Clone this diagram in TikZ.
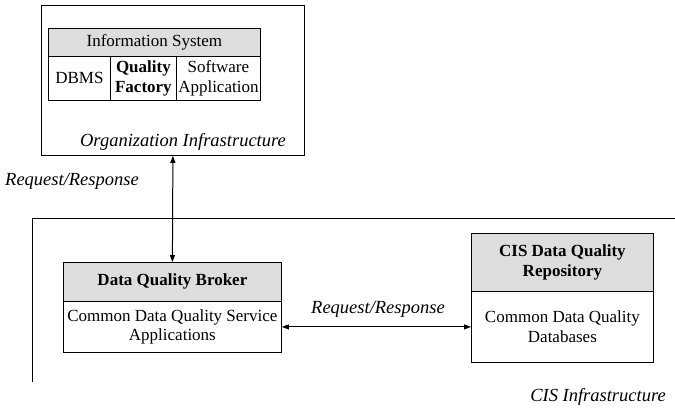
\documentclass[tikz,border=0pt]{standalone}
\usepackage{fontspec}
\setmainfont{Liberation Serif}
\usetikzlibrary{arrows.meta}
\definecolor{headgray}{RGB}{221,221,221}
\begin{document}
\begin{tikzpicture}[x=1pt,y=-1pt,
  every node/.style={font=\fontsize{17}{19.5}\selectfont},
  cell/.style={draw, line width=0.8pt, inner sep=0pt, align=center, anchor=north west},
  head/.style={cell, fill=headgray, font=\fontsize{17}{19.5}\selectfont\bfseries},
  plainhead/.style={cell, fill=headgray},
  frame/.style={draw, line width=0.8pt, inner sep=0pt, anchor=north west},
  lbl/.style={font=\fontsize{18.5}{21}\selectfont\itshape},
  link/.style={line width=1pt, {Triangle[length=7pt,width=5pt]}-{Triangle[length=7pt,width=5pt]}}
]
\useasboundingbox (0,0) rectangle (675,410);

% organization infrastructure
\node[frame, minimum width=263pt, minimum height=150pt] (org) at (41,5) {};
\node[plainhead, minimum width=212pt, minimum height=28pt] (is) at (48,28) {Information System};
\node[cell, minimum width=62pt, minimum height=44pt] (dbms) at (48,56) {DBMS};
\node[cell, minimum width=66pt, minimum height=44pt, font=\fontsize{17}{19.5}\selectfont\bfseries] (qf) at (110,56) {Quality\\Factory};
\node[cell, minimum width=84pt, minimum height=44pt] (sw) at (176,56) {Software\\Application};
\node[lbl] (orglbl) at (183,142) {Organization Infrastructure};

% CIS infrastructure (open frame)
\coordinate (cisbl) at (32,382);
\coordinate (cistl) at (32,218);
\coordinate (cistr) at (675,218);
\draw[line width=0.8pt] (cisbl) -- (cistl) -- (cistr);
\node[lbl] (cislbl) at (598,397) {CIS Infrastructure};

% data quality broker
\node[head, minimum width=218pt, minimum height=39pt] (dqb) at (63,262) {Data Quality Broker};
\node[cell, minimum width=218pt, minimum height=51pt] (dqbb) at (63,301) {Common Data Quality Service\\Applications};

% CIS data quality repository
\node[head, minimum width=182pt, minimum height=58pt] (rep) at (471,233) {CIS Data Quality\\Repository};
\node[cell, minimum width=182pt, minimum height=71pt] (repb) at (471,291) {Common Data Quality\\Databases};

% request/response links
\draw[link] (org.south) -- (dqb.north);
\node[lbl] (rr1) at (72,181) {Request/Response};
\draw[link] (dqbb.east) -- (repb.west);
\node[lbl] (rr2) at (378,309) {Request/Response};
\end{tikzpicture}
\end{document}
